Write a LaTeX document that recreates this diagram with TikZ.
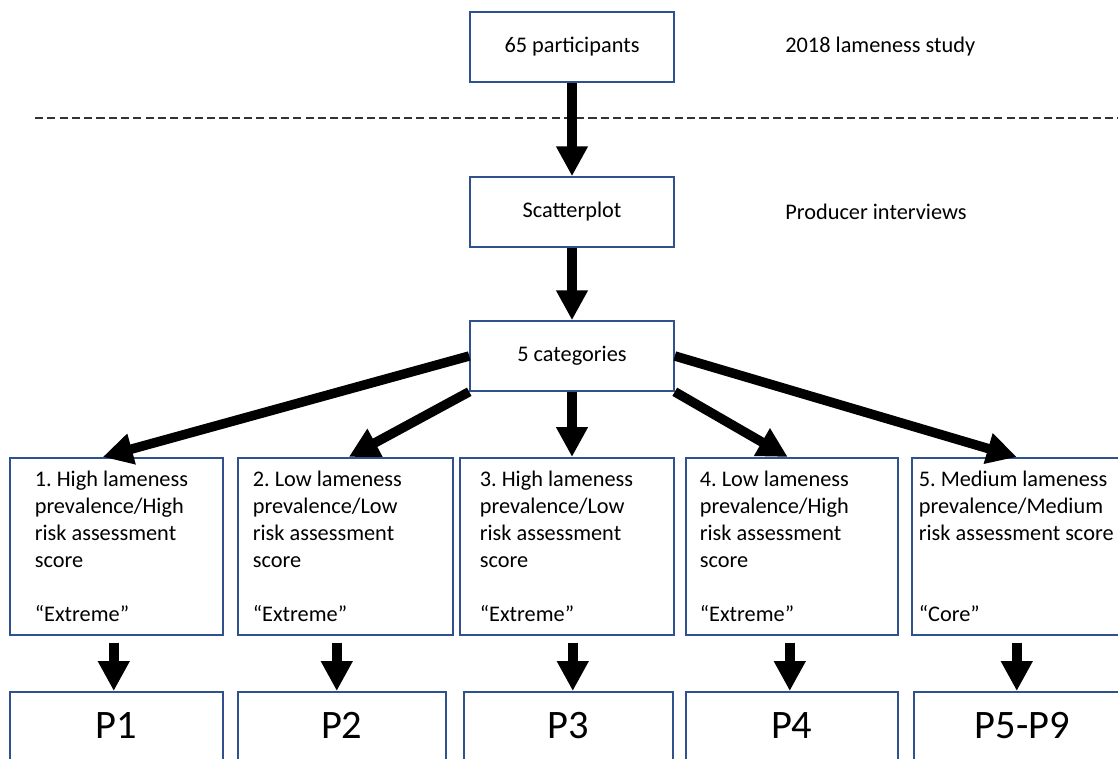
\documentclass[tikz,border=0pt]{standalone}
\usepackage{fontspec}
\setmainfont{Carlito}
\usetikzlibrary{arrows.meta}
\definecolor{boxblue}{HTML}{2F528F}

\begin{document}
\begin{tikzpicture}[
  x=0.02cm, y=-0.02cm,
  font=\fontsize{12.7}{15.4}\selectfont\frenchspacing,
  box/.style={draw=boxblue,line width=0.9pt,minimum width=4.08cm,minimum height=1.4cm,inner sep=0pt},
  catbox/.style={draw=boxblue,line width=0.9pt,anchor=north west,align=flush left,minimum height=3.54cm,inner ysep=0pt},
  pbox/.style={draw=boxblue,line width=0.9pt,anchor=north west,inner ysep=0pt,text height=0.94cm,text depth=1.2cm,font=\fontsize{23}{27}\selectfont},
  note/.style={anchor=west,inner sep=0pt},
  arr/.style={-{Triangle[width=17pt,length=17pt]},line width=5.4pt},
  sep/.style={line width=1.5pt,draw=black!80,dash pattern=on 4.6pt off 2.4pt}
]
\useasboundingbox (0,0) rectangle (1118,759);
\clip (0,0) rectangle (1118,759);

% study part
\node[box] (part) at (572,47) {65 participants};
\node[note] (study) at (785,47) {2018 lameness study};
\coordinate (sepL) at (35,118);
\coordinate (sepR) at (1118,118);
\draw[sep] (sepL) -- (sepR);

% interviews part
\node[box] (scat) at (572,212) {Scatterplot};
\node[note] (intv) at (785,212) {Producer interviews};
\node[box] (cat) at (572,356) {5 categories};

% categories
\node[catbox,text width=3.26cm,inner xsep=0.5cm] (c1) at (9,457)
  {1. High lameness\\prevalence/High\\risk assessment\\score\\[15.4pt]“Extreme”};
\node[catbox,text width=3.7cm,inner xsep=0.3cm] (c2) at (237,457)
  {2. Low lameness\\prevalence/Low\\risk assessment\\score\\[15.4pt]“Extreme”};
\node[catbox,text width=3.48cm,inner xsep=0.4cm] (c3) at (459,457)
  {3. High lameness\\prevalence/Low\\risk assessment\\score\\[15.4pt]“Extreme”};
\node[catbox,text width=3.68cm,inner xsep=0.28cm] (c4) at (685,457)
  {4. Low lameness\\prevalence/High\\risk assessment\\score\\[15.4pt]“Extreme”};
\node[catbox,text width=4.1cm,inner xsep=0.14cm] (c5) at (911,457)
  {5. Medium lameness\\prevalence/Medium\\risk assessment score\\[30.8pt]“Core”};

% producers
\node[pbox,minimum width=4.26cm] (p1) at (9,691) {P1};
\node[pbox,minimum width=4.16cm] (p2) at (237,691) {P2};
\node[pbox,minimum width=4.18cm] (p3) at (463,691) {P3};
\node[pbox,minimum width=4.24cm] (p4) at (685,691) {P4};
\node[pbox,minimum width=4.34cm] (p5) at (913,691) {P5-P9};

\draw[arr] (part.south) -- (scat.north);
\draw[arr] (scat.south) -- (cat.north);

\draw[arr] (cat.west) -- ([xshift=-0.27cm]c1.north);
\draw[arr] (cat.south west) -- ([xshift=0.07cm]c2.north);
\draw[arr] (cat.south) -- (cat.south |- c3.north);
\draw[arr] (cat.south east) -- ([xshift=-0.08cm]c4.north);
\draw[arr] (cat.east) -- ([xshift=-0.09cm]c5.north);

\foreach \i/\dx in {1/-0.05,2/-0.17,3/0.12,4/-0.04,5/-0.09}{
  \coordinate (d\i) at ([xshift=\dx cm]c\i.south);
  \draw[arr,shorten <=0.14cm] (d\i) -- (d\i |- p\i.north);
}
\end{tikzpicture}
\end{document}
